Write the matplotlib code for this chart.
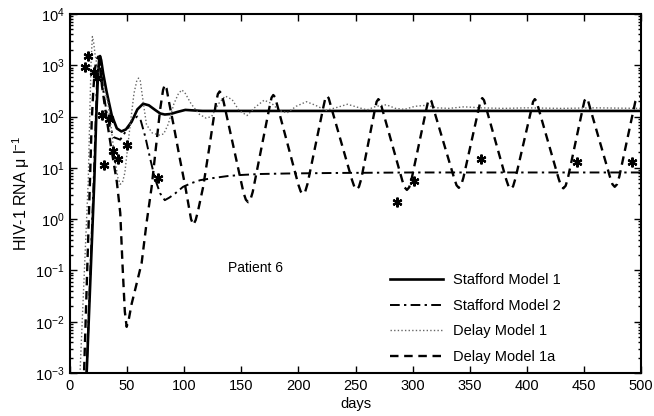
import numpy as np
import matplotlib
matplotlib.use("Agg")
import matplotlib.pyplot as plt
from matplotlib.ticker import LogLocator, NullFormatter, MultipleLocator

plt.rcParams['font.family'] = ['Liberation Sans', 'DejaVu Sans']
plt.rcParams['mathtext.fontset'] = 'custom'
plt.rcParams['mathtext.rm'] = 'Liberation Sans'
plt.rcParams['mathtext.it'] = 'Liberation Sans:italic'
plt.rcParams['mathtext.bf'] = 'Liberation Sans:bold'

# ---- data (days, log10 of HIV-1 RNA) ----
stafford1_day = [13.7, 21.3, 23.0, 24.5, 25.5, 26.3, 27.3, 29, 32, 36.5, 41, 45, 49, 54, 59, 64,
                 69, 74.5, 79, 83, 88, 94, 101, 108, 116, 125, 200, 300, 400, 500]
stafford1_log = [-3.5, 0.76, 2.0, 2.8, 3.1, 3.18, 3.1, 2.85, 2.49, 2.03, 1.77, 1.71, 1.75, 1.90, 2.14, 2.25,
                 2.22, 2.13, 2.06, 2.04, 2.05, 2.09, 2.13, 2.12, 2.11, 2.11, 2.11, 2.11, 2.11, 2.11]

stafford2_day = [13.7, 21.0, 23.5, 25.0, 26.0, 27.0, 29.5, 33, 38, 44, 50, 55, 59, 62, 66, 70,
                 74.5, 79, 83, 87, 92, 99, 106, 114, 125, 138, 149, 166, 190, 230, 300, 400, 500]
stafford2_log = [-3.5, 0.9, 2.6, 3.0, 3.05, 2.95, 2.45, 1.95, 1.6, 1.55, 1.75, 1.95, 2.0, 1.92, 1.6, 1.2,
                 0.78, 0.5, 0.37, 0.42, 0.50, 0.63, 0.70, 0.76, 0.80, 0.84, 0.86, 0.88, 0.89, 0.90, 0.91, 0.91, 0.91]

delay1_day = [7.8, 16, 17.5, 18.5, 19.6, 20.7, 22, 25, 29, 33, 36, 39, 42, 44, 46, 48, 52, 56, 58.5, 60,
              61.5, 64, 67, 72, 78, 82, 86, 91, 95, 98, 101, 106, 113, 119, 124, 130, 136, 142, 148,
              155, 162, 170, 177, 183, 190, 198, 207, 215, 224, 234, 243, 252, 260, 268, 277, 285,
              293, 302, 312, 322, 332, 345, 360, 380, 400, 430, 460, 500]
delay1_log = [-3.5, 0.76, 2.2, 3.1, 3.56, 3.45, 3.2, 2.85, 2.6, 2.3, 1.8, 1.2, 0.8, 0.68, 0.72, 0.9, 1.7, 2.45,
              2.7, 2.75, 2.7, 2.3, 1.84, 1.68, 1.64, 1.66, 1.85, 2.25, 2.45, 2.52, 2.45, 2.25, 2.05, 1.97,
              2.0, 2.25, 2.40, 2.33, 2.12, 2.02, 2.18, 2.32, 2.25, 2.12, 2.07, 2.2, 2.29, 2.22, 2.12, 2.18,
              2.24, 2.18, 2.13, 2.2, 2.23, 2.16, 2.14, 2.2, 2.22, 2.17, 2.16, 2.19, 2.17, 2.16, 2.17, 2.16,
              2.17, 2.16]

delay1a_day = [11.6, 17.5, 19, 20.5, 22, 23.5, 24.8, 26, 28, 32, 36, 41, 44, 46, 48, 49.6, 51.5, 54, 57,
               62.7, 67, 71.5, 75, 79, 81.5, 83, 84.5, 87, 91, 96, 101, 104, 106, 108, 110, 112, 116.6,
               122, 126, 128, 129.5, 131, 132.5, 134.5,
               152, 154, 156, 158, 160, 175, 176.5, 178, 179.5, 181.5,
               200, 202, 204, 206, 208, 222, 223.5, 225, 226.5, 228.5,
               247, 249, 251, 253, 255, 267, 268.5, 270, 271.5, 273.5,
               291, 293, 295, 297, 299, 312, 313.5, 315, 316.5, 318.5,
               336.5, 338.5, 340.5, 342.5, 344.5, 358, 359.5, 361, 362.5, 364.5,
               382, 384, 386, 388, 390, 404, 405.5, 407, 408.5, 410.5,
               428, 430, 432, 434, 436, 449, 450.5, 452, 453.5, 455.5,
               473, 475, 477, 479, 481, 495, 497.5, 500]
delay1a_log = [-3.5, 0.76, 1.9, 2.55, 2.95, 3.12, 3.17, 3.08, 2.6, 1.97, 1.4, 0.73, 0.12, -0.9, -1.8, -2.1,
               -1.95, -1.65, -1.38, -0.86, -0.08, 0.63, 1.35, 2.15, 2.52, 2.62, 2.55, 2.25, 1.8, 1.2, 0.63,
               0.25, 0.0, -0.11, -0.02, 0.15, 0.63, 1.4, 2.0, 2.29, 2.44, 2.49, 2.45, 2.29,
               0.51, 0.38, 0.33, 0.38, 0.53, 2.22, 2.37, 2.42, 2.38, 2.22,
               0.67, 0.54, 0.49, 0.54, 0.69, 2.20, 2.35, 2.40, 2.36, 2.20,
               0.76, 0.63, 0.58, 0.63, 0.78, 2.14, 2.29, 2.34, 2.30, 2.14,
               0.75, 0.62, 0.57, 0.62, 0.77, 2.14, 2.29, 2.34, 2.30, 2.14,
               0.79, 0.66, 0.61, 0.66, 0.81, 2.16, 2.31, 2.36, 2.32, 2.16,
               0.77, 0.64, 0.59, 0.64, 0.79, 2.14, 2.29, 2.34, 2.30, 2.14,
               0.78, 0.65, 0.60, 0.65, 0.80, 2.16, 2.31, 2.36, 2.32, 2.16,
               0.81, 0.68, 0.63, 0.68, 0.83, 2.29, 2.38, 2.40]

patient_day = [16.0, 13.1, 21.0, 23.4, 27.7, 34.4, 49.6, 38.0, 41.7, 30.0, 76.7, 286, 301, 360, 443.6, 492]
patient_log = [3.18, 2.97, 2.86, 2.76, 2.03, 1.95, 1.45, 1.32, 1.17, 1.06, 0.80, 0.34, 0.74, 1.17, 1.12, 1.11]

labels = ['Stafford Model 1', 'Stafford Model 2', 'Delay Model 1', 'Delay Model 1a']

fig = plt.figure(figsize=(6.54, 4.16), dpi=100)
ax = fig.add_axes([70/654, 43/416, 571/654, 359/416])

def pw(v):
    return 10.0 ** np.asarray(v, dtype=float)

l1, = ax.plot(stafford1_day, pw(stafford1_log), color='black', lw=1.9, ls='-', label=labels[0])
l2, = ax.plot(stafford2_day, pw(stafford2_log), color='black', lw=1.4, label=labels[1],
              dashes=(5, 2.2, 1.2, 2.2))
l3, = ax.plot(delay1_day, pw(delay1_log), color='0.4', lw=1.0, ls=(0, (1, 1.6)), label=labels[2])
l4, = ax.plot(delay1a_day, pw(delay1a_log), color='black', lw=1.7, label=labels[3],
              dashes=(3.6, 2.4))
ax.plot(patient_day, pw(patient_log), ls='none', marker=(6, 2, 0), ms=7, mew=1.6, color='black')

ax.set_yscale('log')
ax.set_xlim(0, 500)
ax.set_ylim(1e-3, 1e4)
ax.xaxis.set_major_locator(MultipleLocator(50))
ax.yaxis.set_major_locator(LogLocator(base=10, numticks=20))
ax.yaxis.set_minor_locator(LogLocator(base=10, subs=np.arange(2, 10), numticks=20))
ax.yaxis.set_minor_formatter(NullFormatter())
ax.tick_params(which='both', direction='in', top=True, right=True, labelsize=10.5, width=1.0)
ax.tick_params(which='major', length=5, pad=4)
ax.tick_params(which='minor', length=2.5)
for s in ax.spines.values():
    s.set_linewidth(1.5)

ax.set_xlabel('days', fontsize=10.5, labelpad=3)
ax.set_ylabel('HIV-1 RNA \u03bc l$^{-1}$', fontsize=11.5, labelpad=2)

ax.text(138.4, 0.112, 'Patient 6', fontsize=10, va='center', ha='left')

leg = fig.legend(handles=[l1, l2, l3, l4], loc='upper left', bbox_to_anchor=(390/654, 1 - 273/416),
                 frameon=False, fontsize=10.5, handlelength=3.6, handletextpad=0.75,
                 labelspacing=0.8, borderpad=0, borderaxespad=0)

fig.savefig('out.png', dpi=100)
